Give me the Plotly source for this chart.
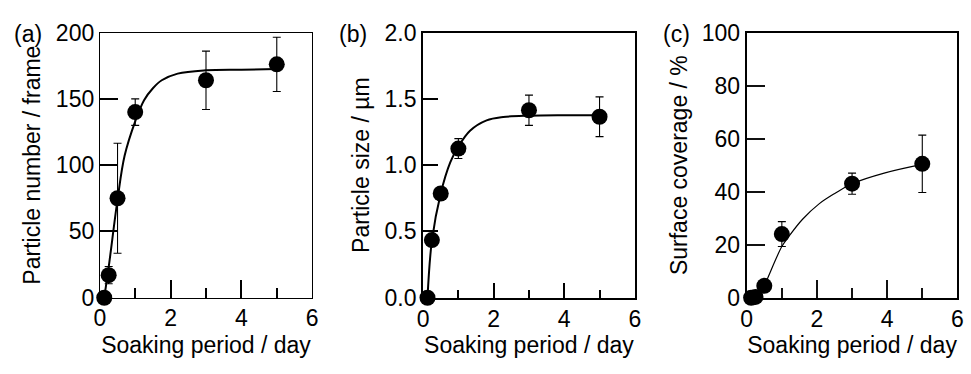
import plotly.graph_objects as go

# Soaking period (day) for the measured points
days = [0.125, 0.25, 0.5, 1.0, 3.0, 5.0]

# (a) particle number per frame
number_vals = [0, 17, 75, 140, 164, 176]
number_err = [0, 6.5, 41.5, 10, 22, 20.5]

# (b) particle size / um
size_vals = [0, 0.435, 0.786, 1.125, 1.414, 1.365]
size_err = [0, 0, 0, 0.075, 0.114, 0.15]

# (c) surface coverage / %
cover_vals = [0, 0.3, 4.5, 24, 43, 50.5]
cover_err = [0, 0, 0, 4.7, 4, 10.8]

# Fitted curves, sampled along the drawn trend lines
fit_a_x = [0.125, 0.25, 0.5, 0.7, 1.0, 1.25, 1.5, 1.75, 2.2, 3.0, 4.0, 5.0]
fit_a_y = [0, 23, 74, 107, 133, 149, 158, 164, 169, 171.5, 172, 172.5]

fit_b_x = [0.125, 0.25, 0.5, 0.77, 1.0, 1.33, 1.8, 2.27, 3.0, 4.0, 5.0]
fit_b_y = [0, 0.43, 0.786, 1.02, 1.14, 1.26, 1.338, 1.363, 1.373, 1.376, 1.376]

fit_c_x = [0.33, 0.5, 1.0, 1.22, 1.59, 2.06, 2.53, 3.0, 3.94, 5.0]
fit_c_y = [0, 4.5, 19.3, 23.5, 29.6, 35.4, 39.5, 43.0, 47.1, 50.3]

panel_labels = ["(a)", "(b)", "(c)"]
y_titles = ["Particle number / frame", "Particle size / µm", "Surface coverage / %"]
x_title = "Soaking period / day"

W, H = 971, 374
FONT = "Arial, Liberation Sans, sans-serif"
axis_font = dict(family=FONT, size=23, color="black")

fig = go.Figure()

panels = [
    (fit_a_x, fit_a_y, number_vals, number_err, 2.0),
    (fit_b_x, fit_b_y, size_vals, size_err, 2.0),
    (fit_c_x, fit_c_y, cover_vals, cover_err, 1.2),
]

for i, (fx, fy, vals, err, lw) in enumerate(panels):
    suffix = "" if i == 0 else str(i + 1)
    xa, ya = "x" + suffix, "y" + suffix
    fig.add_trace(go.Scatter(
        x=fx, y=fy, mode="lines", xaxis=xa, yaxis=ya,
        line=dict(color="black", width=lw, shape="spline", smoothing=1.0),
        showlegend=False, hoverinfo="skip",
    ))
    fig.add_trace(go.Scatter(
        x=days, y=vals, mode="markers", xaxis=xa, yaxis=ya,
        marker=dict(color="black", size=16),
        error_y=dict(type="data", array=err, visible=True,
                     color="black", thickness=1.1, width=4),
        showlegend=False, cliponaxis=False,
    ))

fig.update_layout(width=W, height=H, margin=dict(l=0, r=0, t=0, b=0),
                  plot_bgcolor="white")

# Plot areas in pixels (left, right) and shared vertical span
x_px = [(95, 310), (422.3, 636.7), (750, 963.3)]
y_dom = [68 / H, 353 / H]
y_ranges = [[0, 200], [0, 2.0], [0, 100]]
y_dticks = [50, 0.5, 20]
y_formats = ["d", ".1f", "d"]
frame_w = [1, 2, 2]
major_len = [18, 15, 18]
minor_len = [10, 8, 10]
tick_col = ["black", "black", "#111111"]

for i in range(3):
    s = "" if i == 0 else str(i + 1)
    x0, x1 = x_px[i]
    fig.update_layout({
        "xaxis" + s: dict(
            domain=[x0 / W, x1 / W], range=[0, 6], anchor="y" + s,
            ticks="inside", ticklen=major_len[i], tickwidth=2, tickcolor=tick_col[i],
            showline=True, linecolor="black", linewidth=frame_w[i], mirror=True,
            showgrid=False, zeroline=False,
            tickmode="array", tickvals=[0, 2, 4, 6],
            minor=dict(tickmode="array", tickvals=[1, 3, 5], ticks="inside",
                       ticklen=minor_len[i], tickwidth=2, tickcolor=tick_col[i]),
            tickfont=axis_font,
            title=dict(text=x_title, font=axis_font, standoff=6),
        ),
        "yaxis" + s: dict(
            domain=y_dom, range=y_ranges[i], anchor="x" + s,
            ticks="inside", ticklen=major_len[i], tickwidth=2, tickcolor=tick_col[i],
            showline=True, linecolor="black", linewidth=frame_w[i], mirror=True,
            showgrid=False, zeroline=False,
            tickmode="linear", tick0=0, dtick=y_dticks[i], tickformat=y_formats[i],
            tickfont=axis_font,
            title=dict(text=y_titles[i], font=axis_font, standoff=8),
        ),
    })

label_x = [22, 351, 679]
for i, lab in enumerate(panel_labels):
    fig.add_annotation(
        text=lab, xref="paper", yref="paper",
        x=label_x[i] / W, y=1 - 23 / H, xanchor="center", yanchor="middle",
        showarrow=False, font=axis_font,
    )

fig.write_html("out.html")
